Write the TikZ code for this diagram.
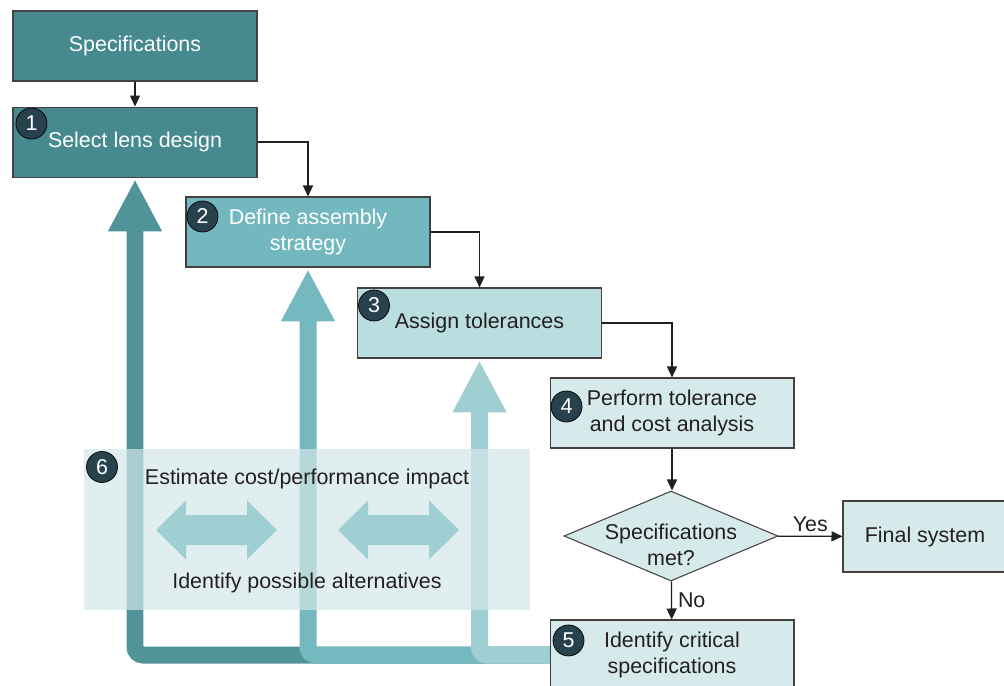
\documentclass[tikz,border=0pt]{standalone}
\usepackage{fontspec}
\setmainfont{Liberation Sans}
\usepackage{tikz}
\usetikzlibrary{arrows.meta,positioning,shapes.geometric,backgrounds}
\definecolor{ink}{RGB}{35,31,32}
\definecolor{deepteal}{RGB}{70,138,143}
\definecolor{midteal}{RGB}{115,184,191}
\definecolor{paleteal}{RGB}{186,221,224}
\definecolor{mistteal}{RGB}{214,234,236}
\definecolor{badgefill}{RGB}{40,66,77}
\definecolor{loopdeep}{RGB}{80,148,154}
\definecolor{loopmid}{RGB}{117,184,191}
\definecolor{looppale}{RGB}{159,207,211}
\definecolor{haze}{RGB}{211,231,232}
\tikzset{
  stage/.style={draw=ink!85,line width=0.6pt,minimum width=4.88cm,
    minimum height=1.4cm,align=center,inner sep=2pt},
  flow/.style={line width=0.7pt,ink,-{Triangle[length=2.2mm,width=2mm]}},
  loopback/.style={line width=0.34cm,rounded corners=0.16cm,
    -{Triangle[length=1.04cm,width=1cm]}},
  badge/.style={circle,draw=black,fill=badgefill,text=white,
    minimum size=0.62cm,inner sep=0pt},
  tag/.style={text=ink,align=center},
  swaparrow/.style={fill=looppale,draw=none}
}

\begin{document}
\begin{tikzpicture}[x=0.02cm,y=-0.02cm,node distance=0.5cm,
    font=\fontsize{12.2}{15}\selectfont]
  \useasboundingbox (0,0) rectangle (1004,686);
  % design steps
  \node[stage,fill=deepteal,text=white] (spec) at (135,46) {Specifications};
  \node[stage,fill=deepteal,text=white,below=of spec] (lens) {Select lens design};
  \node[stage,fill=midteal,text=white] (strategy) at (308,232) {Define assembly\\strategy};
  \node[stage,fill=paleteal,text=ink] (tol) at (479.5,323) {Assign tolerances};
  \node[stage,fill=mistteal,text=ink] (analysis) at (672,413) {Perform tolerance\\and cost analysis};
  \node[diamond,draw=ink!85,line width=0.6pt,fill=mistteal,inner sep=0pt,
    minimum width=4.28cm,minimum height=1.8cm] (met) at (671,536) {};
  \node[tag] (metq) at (671,545) {Specifications\\met?};
  \node[stage,fill=mistteal,text=ink,minimum width=3.28cm,minimum height=1.42cm] (final) at (925,536.5) {Final system};
  \node[stage,fill=mistteal,text=ink] (critical) at (672,655) {Identify critical\\specifications};
  % trade-off panel
  \node[tag] (estimate) at (307,479) {Estimate cost/performance impact};
  \node[tag] (alternatives) at (307,583) {Identify possible alternatives};
  \coordinate (panelnw) at (84,449);
  % step numbers
  \node[badge] (n1) at ([shift={(19,17)}]lens.north west) {1};
  \node[badge] (n2) at ([shift={(17,20)}]strategy.north west) {2};
  \node[badge] (n3) at ([shift={(17,18)}]tol.north west) {3};
  \node[badge] (n4) at ([shift={(17,29)}]analysis.north west) {4};
  \node[badge] (n5) at ([shift={(19,21)}]critical.north west) {5};
  \node[badge] (n6) at ([shift={(18,18)}]panelnw) {6};
  % forward flow
  \draw[flow] (spec) -- (lens);
  \draw[flow] (lens) -| (strategy);
  \draw[flow] (strategy) -| (tol);
  \draw[flow] (tol) -| (analysis);
  \draw[flow] (analysis.south) -- (analysis.south |- met.north);
  \draw[flow] (met) -- node[above=-1pt,tag]{Yes} (final);
  \draw[flow] (met) -- node[right,tag]{No} (critical);
  % feedback loops under the panel
  \begin{scope}[on background layer]
    \foreach \target/\col in {lens/loopdeep,strategy/loopmid,tol/looppale}
      \draw[loopback,\col] (critical.west) -| ([yshift=-1pt]\target.south);
    \node[fill=haze,fill opacity=0.7,inner sep=0pt,minimum width=8.92cm,
      minimum height=3.22cm] (impact) at (307,529.5) {};
    \foreach \x in {156,338}
      \fill[swaparrow] (\x,530) -- ++(30,-29.5) -- ++(0,14.5) -- ++(61,0)
        -- ++(0,-14.5) -- ++(30,29.5) -- ++(-30,29.5) -- ++(0,-14.5)
        -- ++(-61,0) -- ++(0,14.5) -- cycle;
  \end{scope}
\end{tikzpicture}
\end{document}
